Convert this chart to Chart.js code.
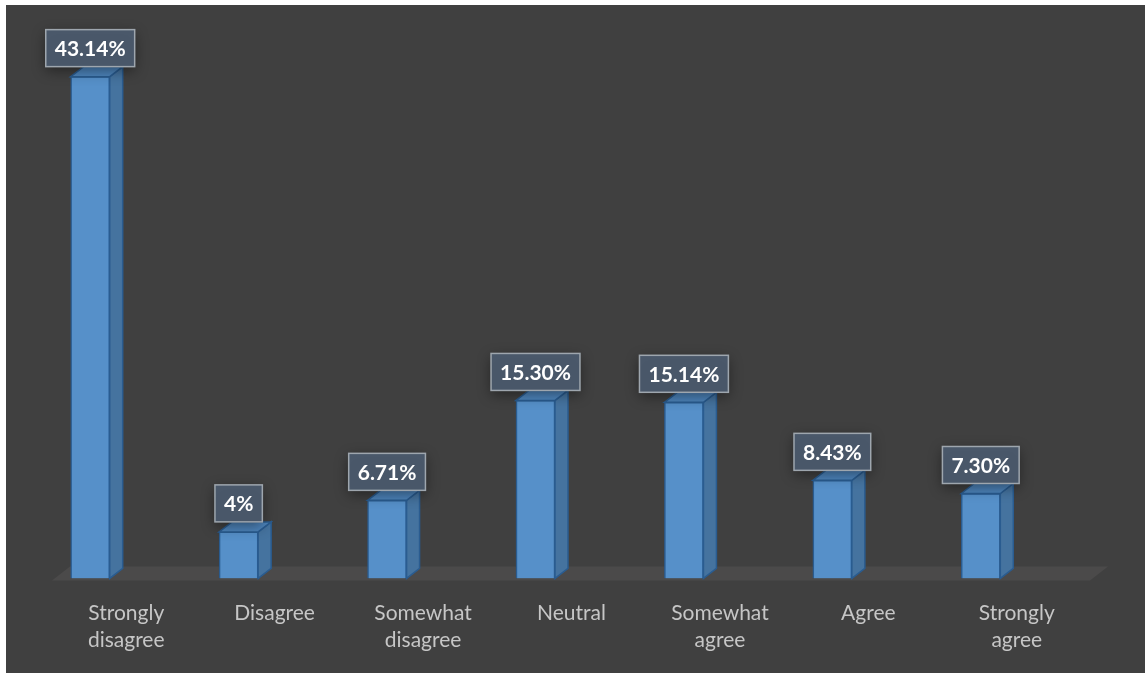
<!DOCTYPE html>
<html>
<head>
<meta charset="utf-8">
<script src="https://cdn.jsdelivr.net/npm/chart.js@4.4.1/dist/chart.umd.min.js"></script>
<style>
  html, body { margin: 0; padding: 0; background: #ffffff; }
  #wrap { position: absolute; left: 6px; top: 5px; width: 1139px; height: 668px; background: #404040; }
</style>
</head>
<body>
<div id="wrap"><canvas id="likertChart"></canvas></div>
<script>
// Réponses (en % des répondants)
const categories = [
  ['Strongly', 'disagree'],
  'Disagree',
  ['Somewhat', 'disagree'],
  'Neutral',
  ['Somewhat', 'agree'],
  'Agree',
  ['Strongly', 'agree'],
];
const shares = [43.14, 4, 6.71, 15.30, 15.14, 8.43, 7.30];
const shareText = ['43.14%', '4%', '6.71%', '15.30%', '15.14%', '8.43%', '7.30%'];

// profondeur de l'effet 3D
const DEPTH_X = 13;
const DEPTH_Y = 10;

// sol en perspective + faces latérales / supérieures + étiquettes
const pseudo3d = {
  id: 'pseudo3d',
  beforeDatasetsDraw(chart) {
    const { ctx, chartArea } = chart;
    const yBase = chart.scales.y.getPixelForValue(0);
    const left = chartArea.left + 36;
    const right = chartArea.right + 35;
    ctx.save();
    ctx.fillStyle = '#4b4a4a';
    ctx.beginPath();
    ctx.moveTo(left, yBase + 2);
    ctx.lineTo(right, yBase + 2);
    ctx.lineTo(right + 18, yBase - 12);
    ctx.lineTo(left + 18, yBase - 12);
    ctx.closePath();
    ctx.fill();
    ctx.restore();
  },
  afterDatasetsDraw(chart) {
    const { ctx } = chart;
    const bars = chart.getDatasetMeta(0).data;
    ctx.save();
    ctx.lineWidth = 1.5;
    ctx.strokeStyle = '#2a5c90';
    bars.forEach((bar) => {
      const x0 = bar.x - bar.width / 2;
      const x1 = bar.x + bar.width / 2;
      const top = bar.y;
      const base = bar.base;
      // face droite
      ctx.fillStyle = '#45739f';
      ctx.beginPath();
      ctx.moveTo(x1, top);
      ctx.lineTo(x1 + DEPTH_X, top - DEPTH_Y);
      ctx.lineTo(x1 + DEPTH_X, base - DEPTH_Y);
      ctx.lineTo(x1, base);
      ctx.closePath();
      ctx.fill();
      ctx.stroke();
      // face supérieure
      ctx.fillStyle = '#4d84bb';
      ctx.beginPath();
      ctx.moveTo(x0, top);
      ctx.lineTo(x0 + DEPTH_X, top - DEPTH_Y);
      ctx.lineTo(x1 + DEPTH_X, top - DEPTH_Y);
      ctx.lineTo(x1, top);
      ctx.closePath();
      ctx.fill();
      ctx.stroke();
    });

    // étiquettes de valeur
    ctx.font = 'bold 21px Lato';
    ctx.textAlign = 'center';
    ctx.textBaseline = 'middle';
    bars.forEach((bar, i) => {
      const text = shareText[i];
      const w = ctx.measureText(text).width + 18;
      const h = 37;
      const bx = bar.x - w / 2;
      const by = bar.y - DEPTH_Y - h;
      ctx.save();
      ctx.shadowColor = 'rgba(0, 0, 0, 0.45)';
      ctx.shadowBlur = 14;
      ctx.shadowOffsetY = 4;
      ctx.fillStyle = 'rgba(74, 89, 107, 0.97)';
      ctx.fillRect(bx, by, w, h);
      ctx.restore();
      ctx.lineWidth = 1.5;
      ctx.strokeStyle = '#9ea6ae';
      ctx.strokeRect(bx, by, w, h);
      ctx.fillStyle = '#ffffff';
      ctx.fillText(text, bar.x, by + h / 2 + 1);
    });
    ctx.restore();
  },
};

new Chart(document.getElementById('likertChart'), {
  type: 'bar',
  data: {
    labels: categories,
    datasets: [
      {
        label: 'Réponses',
        data: shares,
        backgroundColor: '#5690c9',
        borderColor: '#2a5c90',
        borderWidth: 1.5,
        barThickness: 39,
      },
    ],
  },
  options: {
    responsive: true,
    maintainAspectRatio: false,
    animation: false,
    layout: { padding: { top: 50, left: 10, right: 90, bottom: -2 } },
    plugins: {
      legend: { display: false },
      tooltip: { enabled: false },
    },
    scales: {
      x: {
        offset: true,
        grid: { display: false, drawTicks: false },
        border: { display: false },
        ticks: {
          color: '#c6c6c6',
          font: { family: 'Lato', size: 21, lineHeight: 1.3 },
          padding: 21,
          labelOffset: 36,
          maxRotation: 0,
          autoSkip: false,
        },
      },
      y: {
        display: false,
        min: 0,
        max: 45,
      },
    },
  },
  plugins: [pseudo3d],
});
</script>
</body>
</html>
